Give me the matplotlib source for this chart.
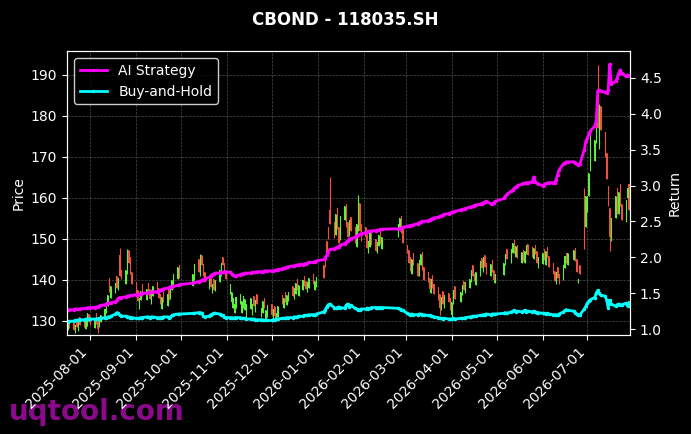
import numpy as np
import pandas as pd
import matplotlib
matplotlib.use("Agg")
import matplotlib.pyplot as plt
import matplotlib.dates as mdates

# trading calendar
start_day = "2025-07-17"
end_day = "2026-07-29"
holidays = ["2025-10-01", "2025-10-02", "2025-10-03", "2025-10-06", "2025-10-07", "2025-10-08",
            "2026-01-01", "2026-01-02",
            "2026-02-16", "2026-02-17", "2026-02-18", "2026-02-19", "2026-02-20", "2026-02-23",
            "2026-04-06", "2026-05-01", "2026-05-04", "2026-05-05", "2026-06-19"]

opens = [
    127.8, 130.2, 129.5, 127.2, 130.5, 127.6, 131.0, 130.2, 128.0, 128.8, 131.6,  # jul
    131.0, 128.2, 131.8, 131.0, 128.5, 129.6, 130.5, 132.0, 133.5, 140.5, 135.5,
    136.8, 141.0, 137.5, 146.0, 142.5, 139.0, 141.5, 147.2, 145.5, 142.0,  # aug
    139.5, 137.5, 132.8, 135.0, 139.0, 135.0, 139.2, 137.8, 134.2, 136.0, 139.5,
    138.0, 136.5, 132.8, 137.0, 133.5, 138.0, 135.2, 137.5, 139.0, 140.2, 143.5,  # sep
    138.5, 140.0, 145.0, 141.0, 146.0, 143.8, 142.0, 137.8, 141.5, 136.8, 140.2,
    137.2, 139.5, 141.0, 145.5, 144.0, 142.5,  # oct
    136.5, 134.5, 133.0, 131.8, 133.0, 134.2, 131.8, 133.2, 132.5, 131.0,
    132.8, 131.5, 136.0, 132.2, 136.5, 130.8, 132.0, 135.5, 130.2, 131.0,  # nov
    134.0, 130.5, 133.5, 130.2, 131.0, 136.2, 133.0, 137.0, 133.8, 134.8, 138.5,
    135.2, 136.5, 140.2, 136.0, 137.5, 141.0, 139.8, 137.0, 138.0, 141.5, 137.5, 138.2,  # dec
    143.5, 146.0, 149.5, 153.0, 157.0, 154.0, 151.0, 157.5, 153.0, 149.8,
    154.5, 158.5, 154.0, 150.8, 155.2, 153.0, 148.0, 152.0, 158.8, 153.5,  # jan
    153.0, 151.0, 146.5, 148.0, 152.2, 150.0, 146.5, 148.2, 152.0, 147.5,
    150.5, 152.0, 155.5, 152.8,  # feb
    148.5, 147.2, 145.5, 141.5, 146.5, 144.0, 140.8, 143.5, 146.8, 143.2, 142.0,
    140.5, 136.8, 141.2, 139.0, 138.2, 136.5, 132.5, 137.2, 133.0, 136.8, 135.5,  # mar
    131.5, 134.0, 138.5, 134.5, 136.2, 139.8, 136.8, 138.0, 139.5, 143.5, 141.5,
    138.8, 141.0, 145.2, 142.0, 146.0, 144.0, 140.8, 144.8, 142.5, 139.2,  # apr
    141.2, 143.5, 147.5, 144.2, 146.5, 149.8, 145.5, 148.5, 144.2, 147.2,
    144.2, 146.2, 148.8, 148.0, 145.0, 148.5, 147.0, 142.8,  # may
    143.8, 147.5, 143.5, 148.0, 145.8, 144.0, 142.2, 139.0, 143.2, 141.5, 140.0,
    142.8, 146.5, 143.5, 144.8, 147.8, 145.0, 139.2, 143.5, 156.0, 153.0,  # jun
    156.5, 160.5, 166.5, 169.0, 173.5, 186.5, 172.0, 182.5, 176.0, 171.0, 163.0,
    157.5, 149.5, 155.0, 162.5, 156.0, 163.5, 158.5, 154.0, 160.0, 163.5,  # jul
]

closes = [
    129.5, 128.2, 127.8, 129.0, 128.5, 130.2, 129.0, 128.4, 130.5, 131.8, 129.6,
    129.0, 130.5, 129.2, 128.0, 130.8, 131.5, 132.8, 134.5, 136.2, 137.0, 138.5,
    139.2, 138.0, 140.5, 141.0, 140.2, 142.5, 145.8, 144.0, 141.5, 139.0,
    136.5, 134.8, 135.5, 137.2, 136.0, 137.8, 136.5, 135.2, 137.5, 138.5, 137.0,
    135.5, 134.0, 135.8, 134.5, 136.5, 135.0, 138.2, 140.0, 141.5, 143.0, 140.5,
    141.5, 143.8, 142.0, 145.2, 143.5, 141.0, 139.5, 140.8, 138.2, 139.0, 137.5,
    140.0, 142.5, 144.2, 143.5, 141.8, 140.2,
    139.0, 137.0, 135.5, 134.2, 135.8, 136.5, 134.8, 136.0, 135.2, 134.0,
    135.5, 134.2, 133.5, 135.0, 134.0, 133.2, 134.8, 133.0, 132.5, 133.8,
    131.5, 132.8, 131.2, 132.0, 133.5, 134.0, 135.5, 134.5, 136.2, 137.0, 136.0,
    138.0, 139.2, 137.5, 138.8, 140.0, 138.5, 137.8, 139.5, 140.5, 139.0, 139.8, 140.6,
    140.5, 143.0, 146.5, 150.0, 153.5, 150.2, 156.0, 152.5, 149.0, 155.5,
    158.0, 153.0, 150.5, 154.5, 151.8, 149.0, 153.5, 158.5, 152.0, 149.5,
    150.5, 147.8, 149.5, 151.8, 148.5, 147.0, 149.2, 151.0, 148.8, 150.5,
    153.5, 155.0, 151.5, 149.0,
    146.5, 144.0, 142.2, 145.0, 143.5, 141.0, 144.8, 146.2, 142.5, 140.0, 139.5,
    137.8, 140.2, 138.0, 136.5, 135.0, 133.2, 135.8, 134.0, 136.2, 134.5, 132.5,
    134.5, 137.5, 135.2, 137.0, 138.8, 137.5, 139.5, 140.2, 142.5, 141.0, 139.8,
    142.0, 144.5, 142.8, 145.5, 143.0, 141.5, 143.8, 142.0, 140.0, 141.5,
    144.0, 146.2, 145.0, 147.5, 149.0, 146.5, 148.2, 145.2, 146.8, 144.5,
    147.0, 148.5, 146.0, 145.5, 147.8, 146.2, 144.0, 145.5,
    146.5, 144.8, 147.0, 145.5, 143.0, 141.5, 139.8, 142.0, 140.5, 139.0, 143.5,
    145.8, 144.0, 146.5, 147.2, 144.5, 142.0, 140.2, 141.5, 147.5, 160.5,
    160.5, 166.0, 171.5, 174.0, 180.5, 177.0, 181.0, 176.5, 170.0, 164.5, 158.0,
    150.5, 155.0, 160.5, 156.0, 161.5, 158.0, 154.5, 159.5, 162.5, 157.0,
]

# wick extremes that stick out of the bodies
wick_highs = {"2025-08-21": 147.7, "2025-08-26": 147.5, "2025-10-14": 146.2,
              "2026-01-09": 165.0, "2026-01-28": 160.6, "2026-06-29": 162.5,
              "2026-07-03": 176.0, "2026-07-08": 192.5, "2026-07-09": 183.0}
wick_lows = {"2025-08-06": 127.0, "2025-07-22": 127.0, "2025-12-03": 130.5,
             "2026-03-24": 131.5, "2026-04-01": 131.0, "2026-07-16": 147.0}

ai_return = [
    1.27, 1.27, 1.27, 1.28, 1.28, 1.28, 1.28, 1.29, 1.29, 1.29, 1.30,
    1.30, 1.30, 1.31, 1.31, 1.32, 1.33, 1.34, 1.35, 1.36, 1.36, 1.37,
    1.38, 1.40, 1.43, 1.44, 1.44, 1.45, 1.46, 1.46, 1.47, 1.47,
    1.48, 1.48, 1.49, 1.49, 1.50, 1.50, 1.51, 1.51, 1.51, 1.52, 1.52,
    1.53, 1.54, 1.55, 1.56, 1.57, 1.58, 1.59, 1.59, 1.60, 1.61, 1.62,
    1.64, 1.65, 1.66, 1.67, 1.68, 1.69, 1.70, 1.72, 1.74, 1.76, 1.77,
    1.78, 1.78, 1.79, 1.79, 1.80, 1.80,
    1.79, 1.77, 1.75, 1.74, 1.74, 1.76, 1.77, 1.77, 1.78, 1.78,
    1.78, 1.79, 1.79, 1.79, 1.80, 1.80, 1.80, 1.81, 1.81, 1.81,
    1.81, 1.81, 1.82, 1.82, 1.83, 1.84, 1.85, 1.85, 1.86, 1.87, 1.88,
    1.88, 1.89, 1.89, 1.90, 1.90, 1.91, 1.91, 1.92, 1.93, 1.93, 1.94, 1.95,
    1.97, 1.99, 2.03, 2.08, 2.11, 2.12, 2.13, 2.14, 2.15, 2.17,
    2.19, 2.21, 2.23, 2.25, 2.26, 2.28, 2.30, 2.31, 2.32, 2.33,
    2.34, 2.35, 2.36, 2.36, 2.37, 2.37, 2.38, 2.38, 2.39, 2.39,
    2.40, 2.40, 2.41, 2.42,
    2.43, 2.44, 2.44, 2.45, 2.45, 2.47, 2.48, 2.49, 2.50, 2.50, 2.51,
    2.52, 2.53, 2.54, 2.55, 2.56, 2.57, 2.58, 2.59, 2.60, 2.61, 2.62,
    2.63, 2.63, 2.64, 2.66, 2.67, 2.67, 2.68, 2.70, 2.70, 2.71, 2.72,
    2.73, 2.74, 2.75, 2.76, 2.77, 2.78, 2.75, 2.74, 2.76, 2.78,
    2.82, 2.85, 2.88, 2.92, 2.94, 2.96, 2.98, 3.00, 3.02, 3.03,
    3.03, 3.04, 3.04, 3.05, 3.12, 3.05, 3.03, 3.02,
    3.00, 3.01, 3.03, 3.03, 3.04, 3.04, 3.04, 3.08, 3.15, 3.22, 3.30,
    3.32, 3.33, 3.33, 3.33, 3.32, 3.30, 3.28, 3.30, 3.50, 3.62,
    3.66, 3.72, 3.76, 3.83, 3.90, 4.32, 4.33, 4.32, 4.30, 4.29, 4.33,
    4.69, 4.42, 4.45, 4.50, 4.56, 4.61, 4.57, 4.52, 4.54, 4.53,
]

bh_return = [
    1.10, 1.11, 1.11, 1.12, 1.12, 1.13, 1.13, 1.13, 1.14, 1.14, 1.14,
    1.14, 1.14, 1.14, 1.14, 1.15, 1.15, 1.16, 1.16, 1.17, 1.17, 1.18,
    1.21, 1.23, 1.22, 1.19, 1.18, 1.18, 1.17, 1.17, 1.16, 1.16,
    1.15, 1.15, 1.15, 1.16, 1.16, 1.17, 1.17, 1.16, 1.17, 1.17, 1.16,
    1.16, 1.16, 1.16, 1.17, 1.17, 1.16, 1.17, 1.19, 1.20, 1.21, 1.21,
    1.22, 1.22, 1.23, 1.23, 1.22, 1.18, 1.17, 1.18, 1.20, 1.21, 1.22,
    1.22, 1.21, 1.20, 1.19, 1.17, 1.16,
    1.16, 1.16, 1.15, 1.16, 1.16, 1.16, 1.15, 1.15, 1.15, 1.14,
    1.14, 1.14, 1.14, 1.13, 1.13, 1.13, 1.13, 1.12, 1.12, 1.12,
    1.12, 1.13, 1.13, 1.14, 1.14, 1.15, 1.15, 1.15, 1.16, 1.16, 1.16,
    1.17, 1.17, 1.17, 1.18, 1.18, 1.19, 1.19, 1.19, 1.20, 1.20, 1.20, 1.21,
    1.24, 1.27, 1.31, 1.34, 1.35, 1.30, 1.29, 1.30, 1.31, 1.30,
    1.29, 1.33, 1.35, 1.31, 1.33, 1.29, 1.28, 1.27, 1.27, 1.28,
    1.28, 1.29, 1.28, 1.29, 1.30, 1.30, 1.30, 1.30, 1.30, 1.30,
    1.29, 1.28, 1.27, 1.26,
    1.22, 1.21, 1.20, 1.21, 1.20, 1.20, 1.21, 1.21, 1.20, 1.20, 1.19,
    1.19, 1.18, 1.18, 1.17, 1.16, 1.15, 1.15, 1.14, 1.15, 1.14, 1.14,
    1.14, 1.15, 1.14, 1.15, 1.15, 1.15, 1.16, 1.17, 1.17, 1.18, 1.18,
    1.18, 1.19, 1.19, 1.20, 1.20, 1.21, 1.20, 1.21, 1.21, 1.21,
    1.22, 1.23, 1.22, 1.24, 1.25, 1.26, 1.24, 1.25, 1.24, 1.25,
    1.26, 1.24, 1.25, 1.24, 1.25, 1.24, 1.23, 1.23,
    1.22, 1.22, 1.21, 1.22, 1.21, 1.20, 1.20, 1.20, 1.19, 1.21, 1.24,
    1.26, 1.27, 1.26, 1.25, 1.23, 1.21, 1.19, 1.20, 1.28, 1.32,
    1.36, 1.39, 1.41, 1.44, 1.50, 1.54, 1.50, 1.47, 1.46, 1.40, 1.30,
    1.40, 1.35, 1.32, 1.34, 1.35, 1.33, 1.34, 1.36, 1.32, 1.37,
]

days = pd.bdate_range(start_day, end_day)
days = days[~days.isin(pd.to_datetime(holidays))]
for name, arr in [("opens", opens), ("closes", closes), ("ai", ai_return), ("bh", bh_return)]:
    assert len(arr) == len(days), f"{name}: {len(arr)} vs {len(days)}"

df = pd.DataFrame({"open": opens, "close": closes, "ai": ai_return, "bh": bh_return}, index=days)
df["body_lo"] = df[["open", "close"]].min(axis=1)
df["body_hi"] = df[["open", "close"]].max(axis=1)
df["high"] = df["body_hi"]
df["low"] = df["body_lo"]
for d, v in wick_highs.items():
    df.loc[pd.Timestamp(d), "high"] = v
for d, v in wick_lows.items():
    df.loc[pd.Timestamp(d), "low"] = v

up_color = "#5cf23c"
down_color = "#f0503c"
colors = np.where(df["close"] >= df["open"], up_color, down_color)

fig = plt.figure(figsize=(6.91, 4.34), dpi=100, facecolor="black")
ax = fig.add_axes([0.097, 0.228, 0.815, 0.654])
ax.set_facecolor("black")

x = mdates.date2num(df.index)
ax.vlines(x, df["low"], df["high"], colors=colors, linewidth=0.8)
ax.bar(x, (df["body_hi"] - df["body_lo"]).clip(lower=0.3), bottom=df["body_lo"],
       width=0.7, color=colors, linewidth=0)

ax.set_ylim(126.5, 195.8)
ax.set_xlim(x[0] - 0.5, x[-1] + 0.8)
ax.set_ylabel("Price", color="white")
ax.grid(True, color="gray", linestyle="--", linewidth=0.5, alpha=0.6)
ax.xaxis.set_major_locator(mdates.MonthLocator())
ax.xaxis.set_major_formatter(mdates.DateFormatter("%Y-%m-%d"))
plt.setp(ax.get_xticklabels(), rotation=45, ha="right")

ax2 = ax.twinx()
ax2.plot(x, df["ai"], color="magenta", marker=".", markersize=3, linewidth=2, label="AI Strategy")
ax2.plot(x, df["bh"], color="cyan", marker=".", markersize=3, linewidth=2, label="Buy-and-Hold")
ax2.set_ylim(0.917, 4.872)
ax2.set_ylabel("Return", color="white")

for a in (ax, ax2):
    a.tick_params(colors="white")
    for s in a.spines.values():
        s.set_color("white")

leg = ax2.legend(loc="upper left", facecolor="black", edgecolor="white", labelcolor="white")

fig.suptitle("CBOND - 118035.SH", color="white", fontweight="bold", fontsize=12, y=0.975)
fig.text(0.013, 0.033, "uqtool.com", color="#8b0a8b", fontsize=20, fontweight="bold",
         zorder=-1)

fig.savefig("out.png", dpi=100, facecolor="black")
